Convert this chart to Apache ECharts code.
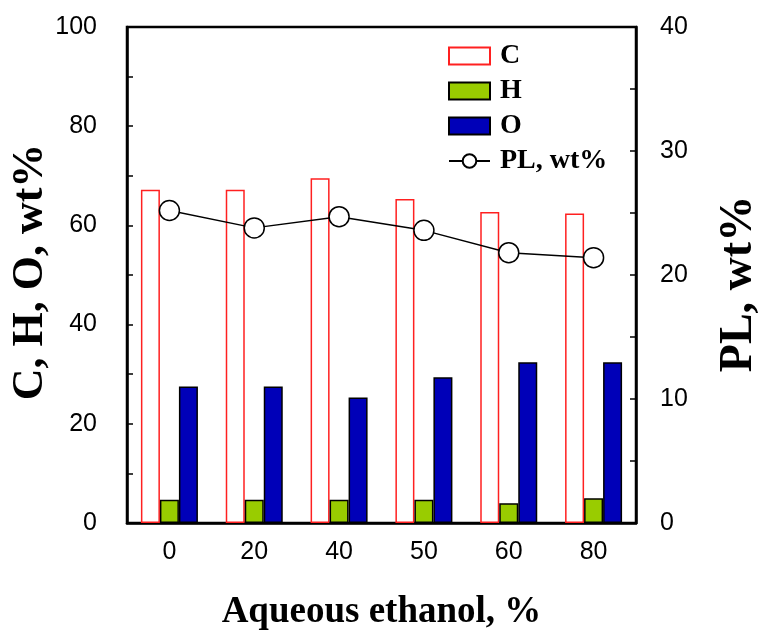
<!DOCTYPE html>
<html><head><meta charset="utf-8">
<script src="https://cdn.jsdelivr.net/npm/echarts@6/dist/echarts.min.js"></script>
<style>html,body{margin:0;padding:0;background:#fff}#c{width:761px;height:636px}</style>
</head><body><div id="c"></div>
<script>
const categories = ['0', '20', '40', '50', '60', '80'];
const carbon = [67.2, 67.2, 69.5, 65.3, 62.7, 62.4];
const hydrogen = [4.7, 4.7, 4.7, 4.7, 4.0, 5.0];
const oxygen = [27.5, 27.5, 25.3, 29.4, 32.4, 32.4];
const plYield = [25.2, 23.8, 24.7, 23.6, 21.8, 21.4];
const leftTicks = [0, 20, 40, 60, 80, 100];
const rightTicks = [0, 10, 20, 30, 40];
const leftName = 'C, H, O, wt%';
const rightName = 'PL, wt%';

const serif = '"Liberation Serif", "Times New Roman", serif';
const sans = '"Liberation Sans", Arial, sans-serif';
const chart = echarts.init(document.getElementById('c'), null, {renderer: 'canvas'});
chart.setOption({
  animation: false,
  backgroundColor: '#fff',
  grid: {left: 127, right: 125, top: 27, bottom: 113, outerBoundsMode: 'none', containLabel: false,
    show: true, borderColor: '#000', borderWidth: 2.5, backgroundColor: 'transparent'},
  legend: {
    orient: 'vertical', left: 443, top: 37, itemWidth: 41, itemHeight: 17, itemGap: 7,
    textStyle: {fontFamily: serif, fontWeight: 'bold', fontSize: 28, color: '#000', lineHeight: 28, padding: [0, 0, 0, 5]},
    data: [{name: 'C', icon: 'rect'}, {name: 'H', icon: 'rect'}, {name: 'O', icon: 'rect'}, {name: 'PL, wt%'}]
  },
  graphic: [
    {type: 'text', x: 31, y: 272, rotation: Math.PI / 2,
      style: {text: leftName, fontFamily: serif, fontWeight: 'bold', fontSize: 44, fill: '#000', align: 'center', verticalAlign: 'middle'}},
    {type: 'text', x: 739, y: 284, rotation: Math.PI / 2,
      style: {text: rightName, fontFamily: serif, fontWeight: 'bold', fontSize: 46, fill: '#000', align: 'center', verticalAlign: 'middle'}}
  ],
  xAxis: {
    type: 'category', data: categories,
    axisLine: {lineStyle: {color: '#000', width: 2.5}},
    axisTick: {show: false},
    axisLabel: {fontFamily: sans, fontSize: 25, color: '#000', margin: 17},
    name: 'Aqueous ethanol, %', nameLocation: 'middle', nameGap: 71,
    nameTextStyle: {fontFamily: serif, fontWeight: 'bold', fontSize: 37, color: '#000'}
  },
  yAxis: [{
    type: 'value', min: 0, max: 100, interval: 10,
    axisLine: {show: true, lineStyle: {color: '#000', width: 2.5}},
    axisTick: {show: true, inside: true, length: 6, lineStyle: {color: '#000', width: 1.5}},
    splitLine: {show: false},
    axisLabel: {fontFamily: sans, fontSize: 25, color: '#000', margin: 30,
      formatter: v => leftTicks.includes(v) ? String(v) : ''}
  }, {
    type: 'value', min: 0, max: 40, interval: 5, position: 'right',
    axisLine: {show: true, lineStyle: {color: '#000', width: 2.5}},
    axisTick: {show: true, inside: true, length: 6, lineStyle: {color: '#000', width: 1.5}},
    splitLine: {show: false},
    axisLabel: {fontFamily: sans, fontSize: 25, color: '#000', margin: 24,
      formatter: v => rightTicks.includes(v) ? String(v) : ''}
  }],
  series: [
    {name: 'C', type: 'bar', data: carbon, barWidth: 19, barGap: '0%',
      itemStyle: {color: '#fff', borderColor: '#ff2020', borderWidth: 1.5}},
    {name: 'H', type: 'bar', data: hydrogen, barWidth: 19, barGap: '0%',
      itemStyle: {color: '#99cc00', borderColor: '#000', borderWidth: 1.5}},
    {name: 'O', type: 'bar', data: oxygen, barWidth: 19, barGap: '0%',
      itemStyle: {color: '#0000b8', borderColor: '#000', borderWidth: 1.5}},
    {name: 'PL, wt%', type: 'line', yAxisIndex: 1, data: plYield,
      symbol: 'circle', symbolSize: 20,
      lineStyle: {color: '#000', width: 1.5},
      itemStyle: {color: '#fff', borderColor: '#000', borderWidth: 1.5}}
  ]
});
</script></body></html>
